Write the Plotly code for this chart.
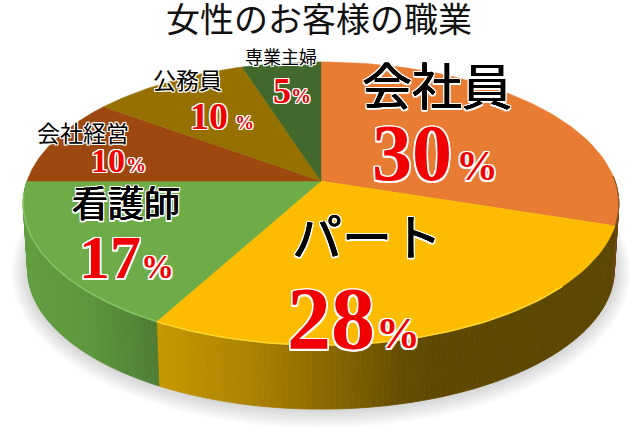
import math
import plotly.graph_objects as go

# ---- data ----
title_text = "女性のお客様の職業"
categories = ["会社員", "パート", "看護師", "会社経営", "公務員", "専業主婦"]
shares = [30, 28, 17, 10, 10, 5]
face_colors = ["#E87C32", "#FDBC00", "#6EAC47", "#9C480F", "#967100", "#43682B"]
name_sizes = [50, 50, 36, 23, 23, 18]
name_pos = [(437, 88), (367, 239), (126, 204), (83, 134), (187, 81), (281, 58)]
num_sizes = [80, 88, 62, 34, 38, 36]
pct_sizes = [42, 44, 33, 20, 19, 20]
gap_px = [4, 1, 0, 1, 7, 0]
label_centers = [435, 353, 126, 118, 222, 292]
label_baselines = [183, 351, 280, 173, 130, 104]

# ---- projection of the tilted disc ----
CX, CY, A, B, K = 321, 181, 294, 138, 0.159
DEPTH, SHRINK = 66.5, 0.985


def project(deg, lower=False, grow=0.0):
    t = math.radians(deg)
    u, v = math.sin(t), math.cos(t)
    w = 1 + K * v
    s = SHRINK if lower else 1.0
    d = DEPTH if lower else 0.0
    return CX + (s * A + grow) * u / w, CY + d - (s * B + grow) * v / w


def arc(a0, a1, lower=False, n=60, grow=0.0):
    pts = [project(a0 + (a1 - a0) * i / n, lower, grow) for i in range(n + 1)]
    return [p[0] for p in pts], [p[1] for p in pts]


def blend(stops, x):
    if x <= stops[0][0]:
        return stops[0][1]
    for (x0, c0), (x1, c1) in zip(stops, stops[1:]):
        if x <= x1:
            f = (x - x0) / (x1 - x0)
            return tuple(c0[i] + (c1[i] - c0[i]) * f for i in range(3))
    return stops[-1][1]


wall_stops = {
    0: [(560, (110, 72, 20)), (640, (110, 72, 20))],
    1: [(158, (198, 152, 0)), (250, (172, 130, 0)), (330, (138, 104, 0)), (400, (102, 78, 0)), (440, (94, 72, 0)), (640, (92, 71, 0))],
    2: [(25, (98, 158, 64)), (90, (92, 150, 60)), (158, (78, 124, 52))],
}
rim_colors = {1: "#FFD62E", 2: "#82C45F"}

fig = go.Figure()


def poly(xs, ys, color, line=None, width=0.0):
    fig.add_trace(go.Scatter(x=xs, y=ys, mode="lines", fill="toself", fillcolor=color,
                             line=dict(color=line or color, width=width),
                             hoverinfo="skip", showlegend=False))


# soft shadow below the disc
for grow in range(16, 0, -2):
    xs, ys = arc(0, 360, True, 180, grow)
    poly(xs, ys, "rgba(60,60,60,0.022)", "rgba(0,0,0,0)")

# slice boundaries, clockwise from the top
edges = [0.0]
for s in shares:
    edges.append(edges[-1] + s * 360.0 / sum(shares))

# side wall
for idx, stops in wall_stops.items():
    a0, a1 = edges[idx], edges[idx + 1]
    if idx == 0:
        a0 = 88
    n = max(2, int((a1 - a0) / 1.0))
    for i in range(n):
        b0 = a0 + (a1 - a0) * i / n
        b1 = a0 + (a1 - a0) * (i + 1) / n
        x0, y0 = project(b0)
        x1, y1 = project(b1)
        x2, y2 = project(b1, True)
        x3, y3 = project(b0, True)
        r, g, b = blend(stops, (x0 + x1) / 2)
        col = f"rgb({r:.0f},{g:.0f},{b:.0f})"
        poly([x0, x1, x2, x3, x0], [y0, y1, y2, y3, y0], col, col, 0.8)

# top face
for i, color in enumerate(face_colors):
    xs, ys = arc(edges[i], edges[i + 1])
    poly([CX] + xs + [CX], [CY] + ys + [CY], color, color, 0.5)

# rim highlights
xs, ys = arc(edges[0] + 88, edges[1], n=20)
fig.add_trace(go.Scatter(x=xs, y=ys, mode="lines", line=dict(color="#8A5A22", width=1), hoverinfo="skip", showlegend=False))
xs, ys = arc(edges[1] + 25, edges[2], n=60)
fig.add_trace(go.Scatter(x=xs, y=ys, mode="lines", line=dict(color=rim_colors[1], width=1.6), hoverinfo="skip", showlegend=False))
xs, ys = arc(edges[2], edges[3] - 5, n=40)
fig.add_trace(go.Scatter(x=xs, y=ys, mode="lines", line=dict(color=rim_colors[2], width=1.6), hoverinfo="skip", showlegend=False))


def halo(px, ink=None):
    parts = []
    if ink:
        parts.append(f"0.4px 0 0 {ink}, -0.4px 0 0 {ink}, 0 0.4px 0 {ink}, 0 -0.4px 0 {ink}")
    for dx, dy in [(-1, -1), (1, -1), (-1, 1), (1, 1), (0, -1), (0, 1), (-1, 0), (1, 0)]:
        parts.append(f"{dx * px}px {dy * px}px 0 #fff")
    return ", ".join(parts)


notes = [dict(x=319, y=20, text=title_text, showarrow=False,
              font=dict(family="Liberation Sans, Noto Sans CJK JP", size=34, color="#111"))]
for i, name in enumerate(categories):
    big = name_sizes[i] >= 30
    notes.append(dict(x=name_pos[i][0], y=name_pos[i][1], text=name, showarrow=False,
                      font=dict(family="Liberation Sans, Noto Sans CJK JP", size=name_sizes[i], color="#000",
                                shadow=halo(1.5 if big else 1.1, "#000" if big else None))))
    gap = f'<span style="font-size:{max(gap_px[i], 0.1) * 4}px">\u00a0</span>'
    pct = f'<span style="font-size:{pct_sizes[i]}px"><b>%</b></span>'
    notes.append(dict(x=label_centers[i], y=label_baselines[i] - 0.37 * num_sizes[i],
                      text=f"<b>{shares[i]}</b>{gap}{pct}", showarrow=False,
                      font=dict(family="Liberation Serif", size=num_sizes[i], color="#F00000",
                                shadow=halo(1.5 if big else 1.2))))

fig.update_layout(
    width=640, height=444, margin=dict(l=0, r=0, t=0, b=0),
    paper_bgcolor="white", plot_bgcolor="white", showlegend=False,
    xaxis=dict(range=[0, 640], visible=False, fixedrange=True),
    yaxis=dict(range=[444, 0], visible=False, fixedrange=True),
    annotations=notes,
)
fig.write_html("out.html", config=dict(displayModeBar=False),
               post_script="document.body.style.margin='0';document.documentElement.style.overflow='hidden';")
